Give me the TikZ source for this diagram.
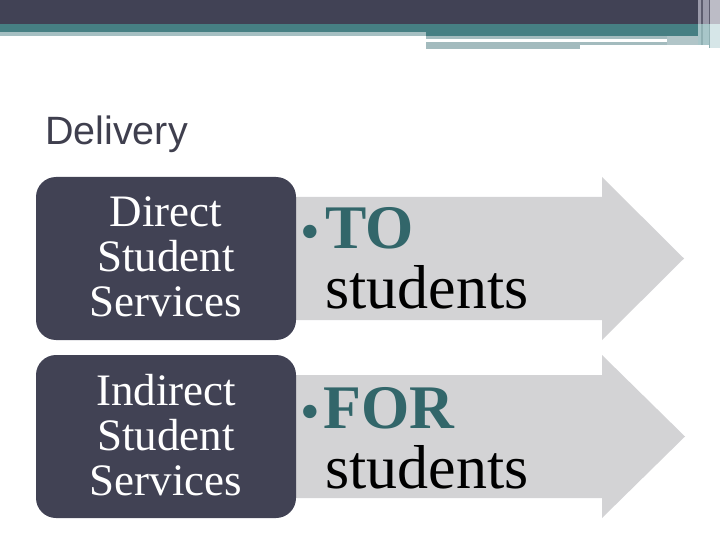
\documentclass[tikz,border=0pt]{standalone}
\usepackage{fontspec}
\setmainfont{Liberation Serif}
\newfontfamily\sansf{Liberation Sans}
\definecolor{darkbar}{HTML}{414255}
\definecolor{tealbar}{HTML}{467F83}
\definecolor{lightstrip}{HTML}{A5BFC2}
\definecolor{graystrip}{HTML}{A3BBBE}
\definecolor{boxfill}{HTML}{414254}
\definecolor{arrowfill}{HTML}{D3D3D5}
\definecolor{tealtext}{HTML}{32666A}
\definecolor{headtext}{HTML}{3F3F4E}
\definecolor{stripeA}{HTML}{9A9AAA}
\definecolor{stripeB}{HTML}{5C5C6E}
\definecolor{stripeC}{HTML}{BCBCC6}
\definecolor{stripeD}{HTML}{A8C6C9}
\definecolor{stripeE}{HTML}{8FAFB2}
\definecolor{stripeF}{HTML}{D6E6E8}
\tikzset{
  svcbox/.style={fill=boxfill, draw=none, rounded corners=20pt},
  arrowshape/.style={fill=arrowfill, draw=none},
  svctext/.style={text=white, align=center, inner sep=0pt, font=\fontsize{45}{45}\selectfont},
  bigword/.style={inner sep=0pt, anchor=base west, font=\fontsize{62}{62}\selectfont},
  bulletmark/.style={inner sep=0pt, anchor=base west, text=tealtext, font=\fontsize{56}{56}\selectfont},
}
\begin{document}
\begin{tikzpicture}[x=1pt,y=-1pt]
\useasboundingbox (0,0) rectangle (720,540);
% top bar
\fill[darkbar] (0,0) rectangle (698,24);
\fill[tealbar] (0,24) rectangle (698,32);
\fill[tealbar] (426,32) rectangle (698,36);
\fill[lightstrip] (0,32) rectangle (426,36);
\fill[graystrip] (426,36) rectangle (667,39);
\fill[graystrip] (426,42) rectangle (580,49);
\fill[graystrip] (580,42) rectangle (667,45);
\fill[graystrip!85!white] (667,36) rectangle (698,45);
% right stripes
\fill[stripeA] (698,0) rectangle (710,24);
\fill[stripeB] (700.5,0) rectangle (702.5,24);
\fill[stripeB] (708.5,0) rectangle (710,24);
\fill[stripeC] (710,0) rectangle (720,24);
\fill[stripeD] (698,24) rectangle (710,45);
\fill[stripeE] (700.5,24) rectangle (702.5,45);
\fill[stripeE] (708.5,24) rectangle (710,48);
\fill[stripeF] (710,24) rectangle (720,48);
% heading
\node[anchor=base west, inner sep=0pt, text=headtext, font=\sansf\fontsize{39.5}{39.5}\selectfont] (title) at (45,145) {Delivery};
% row 1
\path[arrowshape] (280,197) -- (602,197) -- (602,177) -- (684,258.5) -- (602,340) -- (602,320) -- (280,320) -- cycle;
\node[svcbox, minimum width=260pt, minimum height=163pt, inner sep=0pt] (box1) at (166,258.5) {};
\node[svctext] (t1) at (166,257) {Direct\\Student\\Services};
\node[bulletmark] (b1) at (300,250) {•};
\node[bigword, text=tealtext] (to) at (325,248) {\textbf{TO}};
\node[bigword] (s1) at (325,308) {students};
% row 2
\path[arrowshape] (280,375) -- (602,375) -- (602,355) -- (685,436.5) -- (602,518) -- (602,498) -- (280,498) -- cycle;
\node[svcbox, minimum width=260pt, minimum height=163pt, inner sep=0pt] (box2) at (166,436.5) {};
\node[svctext] (t2) at (166,435) {Indirect\\Student\\Services};
\node[bulletmark] (b2) at (300,430) {•};
\node[bigword, text=tealtext] (for) at (323,428) {\textbf{FOR}};
\node[bigword] (s2) at (325,488) {students};
\end{tikzpicture}
\end{document}
